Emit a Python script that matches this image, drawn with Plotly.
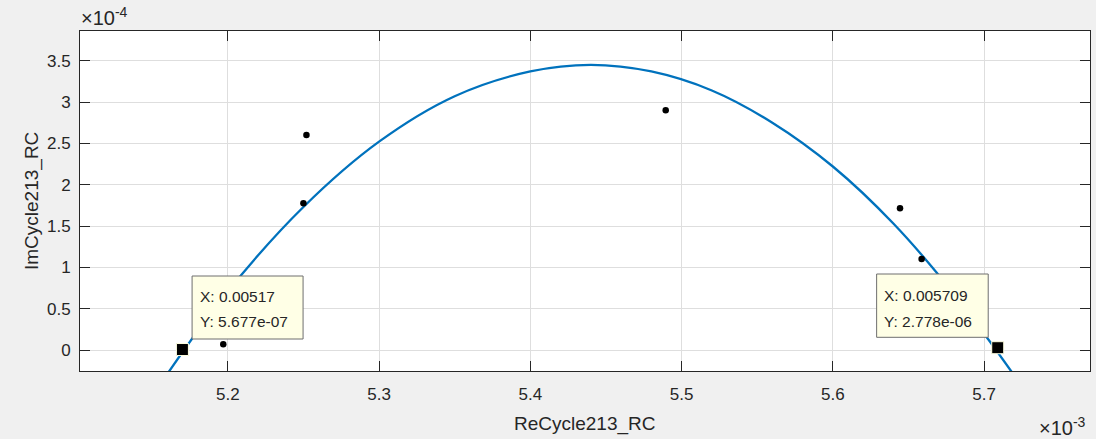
import plotly.graph_objects as go

# Measured points (x in 1e-3, y in 1e-4)
re_pts = [5.197, 5.250, 5.252, 5.4895, 5.6444, 5.6587]
im_pts = [0.069, 1.775, 2.60, 2.90, 1.714, 1.10]

# Fitted curve (x in 1e-3, y in 1e-4)
re_fit = [5.16, 5.20, 5.25, 5.30, 5.35, 5.40, 5.44, 5.48, 5.52, 5.56, 5.60, 5.64, 5.68, 5.72]
im_fit = [-0.29, 0.71, 1.73, 2.52, 3.07, 3.37, 3.45, 3.37, 3.14, 2.75, 2.22, 1.53, 0.68, -0.31]

# Data tips
tip_re = [5.170, 5.709]
tip_im = [0.005677, 0.02778]
tip_labels = [("X: 0.00517", "Y: 5.677e-07"), ("X: 0.005709", "Y: 2.778e-06")]

x_ticks = [5.2, 5.3, 5.4, 5.5, 5.6, 5.7]
y_ticks = [0, 0.5, 1, 1.5, 2, 2.5, 3, 3.5]

FONT = "Liberation Sans, Arial, Helvetica, sans-serif"
AX = "#262626"

fig = go.Figure()
fig.add_trace(go.Scatter(x=re_fit, y=im_fit, mode="lines", line=dict(color="#0072BD", width=2.3, shape="spline"), hoverinfo="skip"))
fig.add_trace(go.Scatter(x=re_pts, y=im_pts, mode="markers", marker=dict(color="black", size=6.5), hoverinfo="skip"))
fig.add_trace(go.Scatter(x=tip_re, y=tip_im, mode="markers", marker=dict(color="black", size=12, symbol="square", line=dict(color="#ffffe1", width=1)), hoverinfo="skip"))

# pixel->data helpers for placing datatip boxes
def px2x(px):
    return 5.2 + (px - 227.7) / 1513.0

def py2y(py):
    return (350.0 - py) / 82.66

boxes = [(192, 303, 276, 339, 198.3, 296, 321.5), (876.7, 988.3, 274, 337.3, 882.3, 295, 321)]
annotations = []
shapes = []
for (l, r, t, b, tx, ty1, ty2), (s1, s2) in zip(boxes, tip_labels):
    shapes.append(dict(type="rect", xref="x", yref="y", x0=px2x(l), x1=px2x(r), y0=py2y(b), y1=py2y(t),
                       fillcolor="#ffffe6", line=dict(color="#6e6e6e", width=1), layer="above"))
    for txt, ty in ((s1, ty1), (s2, ty2)):
        annotations.append(dict(x=px2x(tx), y=py2y(ty), xref="x", yref="y", text=txt, showarrow=False,
                                xanchor="left", yanchor="middle", font=dict(family=FONT, size=15.5, color=AX)))

annotations += [
    dict(x=0.0, y=1.0, xref="paper", yref="paper", text="×10<sup>-4</sup>", showarrow=False,
         xanchor="left", yanchor="bottom", xshift=-1, yshift=0, font=dict(family=FONT, size=20, color=AX)),
    dict(x=1.0, y=0, xref="paper", yref="paper", text="×10<sup>-3</sup>", showarrow=False,
         xanchor="right", yanchor="top", xshift=-2, yshift=-41, font=dict(family=FONT, size=20, color=AX)),
    dict(x=0.5, y=0, xref="paper", yref="paper", text="ReCycle213_RC", showarrow=False,
         xanchor="center", yanchor="middle", yshift=-53, font=dict(family=FONT, size=19, color=AX)),
    dict(x=0, y=0.5, xref="paper", yref="paper", text="ImCycle213_RC", showarrow=False, textangle=-90,
         xanchor="center", yanchor="middle", xshift=-48, font=dict(family=FONT, size=19, color=AX)),
]

fig.update_layout(
    width=1096, height=439,
    margin=dict(l=80, r=6, t=31, b=68),
    paper_bgcolor="#f0f0f0", plot_bgcolor="white",
    showlegend=False,
    font=dict(family=FONT, size=17, color=AX),
    annotations=annotations, shapes=shapes,
)
fig.update_xaxes(range=[5.1023, 5.770], tickvals=x_ticks, ticktext=[str(v) for v in x_ticks],
                 ticks="inside", ticklen=10, tickcolor=AX, mirror="ticks", showline=True, linecolor=AX, linewidth=1,
                 showgrid=True, gridcolor="#dedede", zeroline=False, tickfont=dict(size=17, color=AX),
                 ticklabelstandoff=8)
fig.update_yaxes(range=[-0.254, 3.859], tickvals=y_ticks, ticktext=[f"{v:g}" for v in y_ticks],
                 ticks="inside", ticklen=10, tickcolor=AX, mirror="ticks", showline=True, linecolor=AX, linewidth=1,
                 showgrid=True, gridcolor="#dedede", zeroline=False, tickfont=dict(size=17, color=AX),
                 ticklabelstandoff=5)

fig.write_html("out.html", config={"displayModeBar": False},
               post_script="document.body.style.margin='0';document.body.style.background='#f0f0f0';document.body.style.overflow='hidden';")
